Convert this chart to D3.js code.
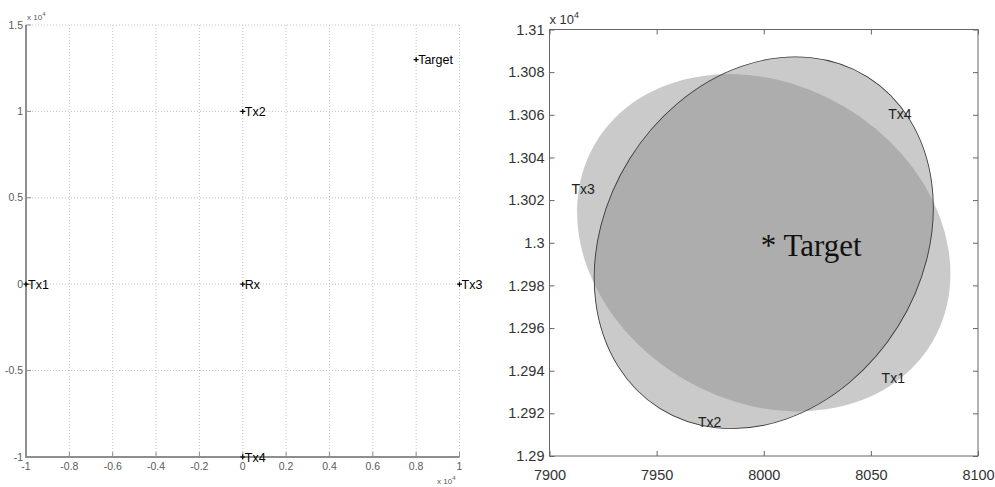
<!DOCTYPE html>
<html>
<head>
<meta charset="utf-8">
<title>Target localisation</title>
<style>
    body { margin: 0; background: #fff; }
    .grid { stroke: #c4c4c4; stroke-width: 1px; stroke-dasharray: 1 2; }
    .laxis { stroke: #8e8e8e; stroke-width: 2px; }
    .ltick { fill: #5a5a5a; font: 10.5px "Liberation Sans", Arial, sans-serif; }
    .lbl { fill: #000; font: 12.5px "Liberation Sans", Arial, sans-serif; }
    .rtick { fill: #333; font: 14.5px "Liberation Sans", Arial, sans-serif; }
    .rlbl { fill: #222; font: 14px "Liberation Sans", Arial, sans-serif; }
    .target { fill: #111; font: 31px "Liberation Serif", "Times New Roman", serif; }
</style>
</head>
<body>
<svg id="chart" width="995" height="487"></svg>
<script src="https://cdn.jsdelivr.net/npm/d3@7"></script>
<script>
// ---- left plot: positions of transmitters, receiver and target
let names = ["Tx1", "Tx2", "Tx3", "Tx4", "Rx", "Target"]
let posX = [-10000, 0, 10000, 0, 0, 8000]
let posY = [0, 10000, 0, -10000, 0, 13000]

let leftXTicks = [-1, -0.8, -0.6, -0.4, -0.2, 0, 0.2, 0.4, 0.6, 0.8, 1]
let leftXLabels = ["-1", "-0.8", "-0.6", "-0.4", "-0.2", "0", "0.2", "0.4", "0.6", "0.8", "1"]
let leftYTicks = [-1, -0.5, 0, 0.5, 1, 1.5]
let leftYLabels = ["-1", "-0.5", "0", "0.5", "1", "1.5"]

// ---- right plot: uncertainty ellipses around the target
let ellCx = [8000, 8000]
let ellCy = [13000, 13000]
let ellA = [91.3, 91.3]      // semi-major axis
let ellB = [74.2, 74.2]      // semi-minor axis
let ellAngle = [-30.5, 58]   // degrees, counter-clockwise from x
let ellStroke = [false, true]

let txNames = ["Tx3", "Tx4", "Tx1", "Tx2"]
let txX = [7910.3, 8058.1, 8055, 7969.3]
let txY = [13025.4, 13060.5, 12936.7, 12916]

let rightXTicks = [7900, 7950, 8000, 8050, 8100]
let rightYTicks = [12900, 12920, 12940, 12960, 12980, 13000, 13020, 13040, 13060, 13080, 13100]
let rightYLabels = ["1.29", "1.292", "1.294", "1.296", "1.298", "1.3", "1.302", "1.304", "1.306", "1.308", "1.31"]

let svg = d3.select("#chart")

// ================= left chart =================
let left = svg.append("g")
let lx = d3.scaleLinear().domain([-10000, 10000]).range([26, 459.5])
let ly = d3.scaleLinear().domain([-10000, 15000]).range([457, 25])

// dotted grid
left.selectAll(".gx").data(leftXTicks).enter().append("line")
    .attr("class", "grid")
    .attr("x1", d => lx(d * 1e4)).attr("x2", d => lx(d * 1e4))
    .attr("y1", ly(15000)).attr("y2", ly(-10000))
left.selectAll(".gy").data(leftYTicks).enter().append("line")
    .attr("class", "grid")
    .attr("y1", d => ly(d * 1e4)).attr("y2", d => ly(d * 1e4))
    .attr("x1", lx(-10000)).attr("x2", lx(10000))

// axes
left.append("line").attr("class", "laxis")
    .attr("x1", lx(-10000)).attr("x2", lx(-10000)).attr("y1", ly(15000)).attr("y2", ly(-10000) + 1)
left.append("line").attr("class", "laxis")
    .attr("x1", lx(-10000) - 1).attr("x2", lx(10000)).attr("y1", ly(-10000)).attr("y2", ly(-10000))

// inward ticks
left.selectAll(".tx").data(leftXTicks).enter().append("line")
    .attr("stroke", "#8e8e8e")
    .attr("x1", d => lx(d * 1e4)).attr("x2", d => lx(d * 1e4))
    .attr("y1", ly(-10000)).attr("y2", ly(-10000) - 5)
left.selectAll(".ty").data(leftYTicks).enter().append("line")
    .attr("stroke", "#8e8e8e")
    .attr("y1", d => ly(d * 1e4)).attr("y2", d => ly(d * 1e4))
    .attr("x1", lx(-10000)).attr("x2", lx(-10000) + 5)

// tick labels
left.selectAll(".xl").data(leftXTicks).enter().append("text")
    .attr("class", "ltick")
    .attr("x", d => lx(d * 1e4)).attr("y", ly(-10000) + 13)
    .attr("text-anchor", "middle")
    .text((d, i) => leftXLabels[i])
left.selectAll(".yl").data(leftYTicks).enter().append("text")
    .attr("class", "ltick")
    .attr("x", lx(-10000) - 3).attr("y", d => ly(d * 1e4) + 3.5)
    .attr("text-anchor", "end")
    .text((d, i) => leftYLabels[i])

// exponent labels
let e1 = left.append("text").attr("class", "ltick").style("font-size", "8px")
    .attr("x", lx(-10000) + 1).attr("y", ly(15000) - 5)
e1.append("tspan").text("x 10")
e1.append("tspan").attr("dy", -4).style("font-size", "6px").text("4")
let e2 = left.append("text").attr("class", "ltick").style("font-size", "8px")
    .attr("x", lx(10000) - 4).attr("y", ly(-10000) + 27).attr("text-anchor", "end")
e2.append("tspan").text("x 10")
e2.append("tspan").attr("dy", -4).style("font-size", "6px").text("4")

// points with + markers
let pts = left.selectAll(".pt").data(names).enter().append("g")
    .attr("transform", (d, i) => `translate(${lx(posX[i])},${ly(posY[i])})`)
pts.append("path").attr("d", "M-2.5,0H2.5M0,-2.5V2.5")
    .attr("stroke", "#000").attr("stroke-width", 1.2)
pts.append("text").attr("class", "lbl")
    .attr("x", 2).attr("y", 4.5)
    .text(d => d)

// ================= right chart =================
let right = svg.append("g")
let rx = d3.scaleLinear().domain([7900, 8100]).range([549.5, 978])
let ry = d3.scaleLinear().domain([12900, 13100]).range([456, 29.5])

// ellipses: light fills that darken where they overlap
right.selectAll(".ell").data(ellCx).enter().append("ellipse")
    .attr("cx", (d, i) => rx(ellCx[i]))
    .attr("cy", (d, i) => ry(ellCy[i]))
    .attr("rx", (d, i) => rx(ellCx[i] + ellA[i]) - rx(ellCx[i]))
    .attr("ry", (d, i) => ry(ellCy[i]) - ry(ellCy[i] + ellB[i]))
    .attr("transform", (d, i) => `rotate(${-ellAngle[i]},${rx(ellCx[i])},${ry(ellCy[i])})`)
    .attr("fill", "#8a8a8a")
    .attr("fill-opacity", 0.45)
    .attr("stroke", "none")

// outline for the Tx2/Tx4 ellipse
let si = ellStroke.indexOf(true)
right.append("ellipse")
    .attr("cx", rx(ellCx[si]))
    .attr("cy", ry(ellCy[si]))
    .attr("rx", rx(ellCx[si] + ellA[si]) - rx(ellCx[si]))
    .attr("ry", ry(ellCy[si]) - ry(ellCy[si] + ellB[si]))
    .attr("transform", `rotate(${-ellAngle[si]},${rx(ellCx[si])},${ry(ellCy[si])})`)
    .attr("fill", "none")
    .attr("stroke", "#3a3a3a")
    .attr("stroke-width", 0.9)

// box
right.append("rect")
    .attr("x", rx(7900)).attr("y", ry(13100))
    .attr("width", rx(8100) - rx(7900)).attr("height", ry(12900) - ry(13100))
    .attr("fill", "none").attr("stroke", "#666").attr("stroke-width", 1)

// inward ticks on all four sides
right.append("g").attr("transform", `translate(0,${ry(12900)})`)
    .call(d3.axisBottom(rx).tickValues(rightXTicks).tickSizeInner(-5).tickSizeOuter(0).tickFormat(d3.format("d")))
    .call(g => g.select(".domain").remove())
    .call(g => g.selectAll("line").attr("stroke", "#666"))
    .call(g => g.selectAll("text").attr("class", "rtick").attr("fill", null).attr("y", 14).attr("dy", "0.71em"))
right.append("g").attr("transform", `translate(0,${ry(13100)})`)
    .call(d3.axisTop(rx).tickValues(rightXTicks).tickSizeInner(-5).tickSizeOuter(0).tickFormat(""))
    .call(g => g.select(".domain").remove())
    .call(g => g.selectAll("line").attr("stroke", "#666"))
right.append("g").attr("transform", `translate(${rx(7900)},0)`)
    .call(d3.axisLeft(ry).tickValues(rightYTicks).tickSizeInner(-5).tickSizeOuter(0)
        .tickFormat((d, i) => rightYLabels[i]))
    .call(g => g.select(".domain").remove())
    .call(g => g.selectAll("line").attr("stroke", "#666"))
    .call(g => g.selectAll("text").attr("class", "rtick").attr("fill", null).attr("x", -5))
right.append("g").attr("transform", `translate(${rx(8100)},0)`)
    .call(d3.axisRight(ry).tickValues(rightYTicks).tickSizeInner(-5).tickSizeOuter(0).tickFormat(""))
    .call(g => g.select(".domain").remove())
    .call(g => g.selectAll("line").attr("stroke", "#666"))
right.selectAll("g").attr("font-family", null).attr("font-size", null)

// exponent
let e3 = right.append("text").attr("class", "rtick").style("font-size", "13px")
    .attr("x", rx(7900)).attr("y", ry(13100) - 6)
e3.append("tspan").text("x 10")
e3.append("tspan").attr("dy", -6).style("font-size", "9px").text("4")

// labels
right.selectAll(".txl").data(txNames).enter().append("text")
    .attr("class", "rlbl")
    .attr("x", (d, i) => rx(txX[i])).attr("y", (d, i) => ry(txY[i]) + 5)
    .text(d => d)

right.append("text").attr("class", "target")
    .attr("x", rx(8000) - 3).attr("y", ry(13000) + 13)
    .text("* Target")
</script>
</body>
</html>
